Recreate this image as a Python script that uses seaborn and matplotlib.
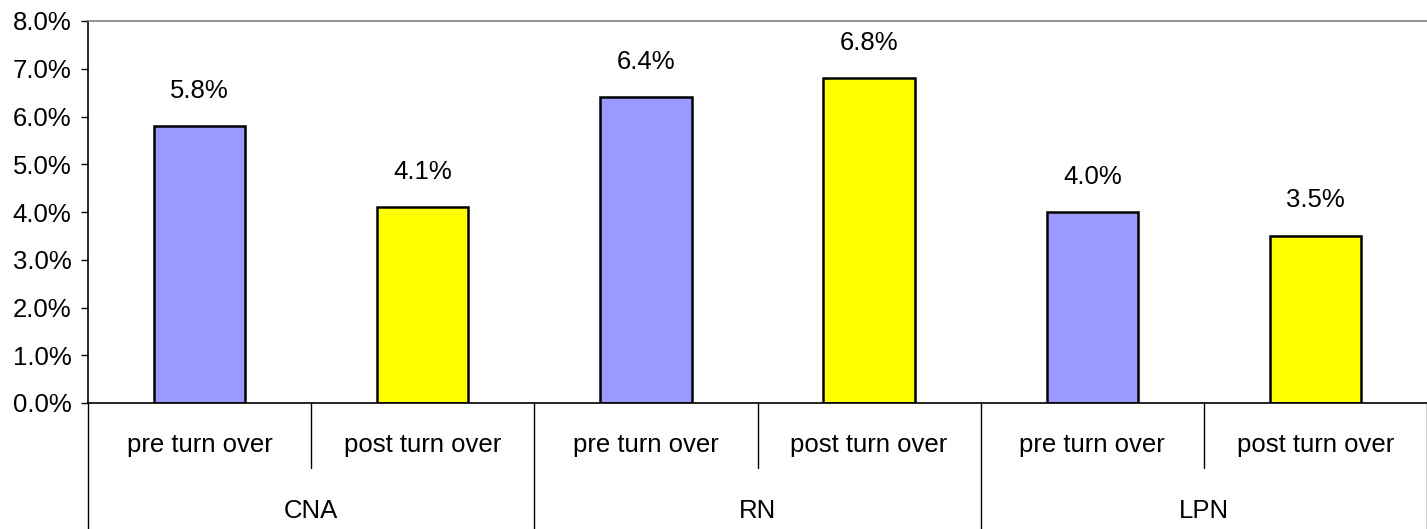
import matplotlib
matplotlib.use("Agg")
import matplotlib.pyplot as plt
import matplotlib.transforms as mtransforms
from matplotlib.ticker import FuncFormatter, MultipleLocator
import pandas as pd
import seaborn as sns

# Turnover rates by staff type, before and after turnover
groups = ["CNA", "CNA", "RN", "RN", "LPN", "LPN"]
phases = ["pre turn over", "post turn over"] * 3
rates = [5.8, 4.1, 6.4, 6.8, 4.0, 3.5]
group_names = ["CNA", "RN", "LPN"]
phase_colors = {"pre turn over": "#9999FF", "post turn over": "#FFFF00"}

df = pd.DataFrame({"group": groups, "phase": phases, "rate": rates})
df["bar"] = df["group"] + " " + df["phase"]

sns.set_theme(style="white")
plt.rcParams["font.family"] = ["Liberation Sans", "DejaVu Sans"]
FS = 18.5

fig = plt.figure(figsize=(14.27, 5.29), dpi=100)
ax = fig.add_axes([88 / 1427, 1 - 403 / 529, 1 - 88 / 1427, (403 - 21) / 529])

sns.barplot(data=df, x="bar", y="rate", hue="phase", palette=phase_colors,
            dodge=False, width=0.41, edgecolor="black", linewidth=1.8,
            saturation=1, legend=False, ax=ax)

ax.set_xlim(-0.5, len(df) - 0.5)
ax.set_ylim(0, 8)
ax.yaxis.set_major_locator(MultipleLocator(1))
ax.yaxis.set_major_formatter(FuncFormatter(lambda v, _: f"{v:.1f}%"))
ax.tick_params(axis="y", which="major", left=True, length=5, width=1,
               color="black", labelsize=FS, pad=7, labelcolor="black")
ax.tick_params(axis="x", bottom=False, labelbottom=False)
ax.set_xlabel("")
ax.set_ylabel("")

ax.spines["right"].set_visible(False)
ax.spines["top"].set_color("#808080")
ax.spines["top"].set_linewidth(1.2)
for side in ["left", "bottom"]:
    ax.spines[side].set_color("black")
    ax.spines[side].set_linewidth(1.2)

# Value labels above the bars
for i, r in enumerate(df["rate"]):
    ax.annotate(f"{r:.1f}%", (i, r), xytext=(0, 25.5), textcoords="offset points",
                ha="center", va="center", fontsize=FS, color="black")

# Two-level category axis below the plot
trans = mtransforms.blended_transform_factory(ax.transData, ax.transAxes)
ax_h_px = 403 - 21

def below(pixels):
    return -pixels / ax_h_px

for i, ph in enumerate(df["phase"]):
    ax.text(i, below(42), ph, transform=trans, ha="center", va="center",
            fontsize=FS, color="black", clip_on=False)

for g, name in enumerate(group_names):
    ax.text(2 * g + 0.5, below(108), name, transform=trans, ha="center",
            va="center", fontsize=FS, color="black", clip_on=False)

# Separators between sub-categories and between groups
for k in range(len(df) + 1):
    x = k - 0.5
    y_end = below(130) if k % 2 == 0 else below(65)
    ax.plot([x, x], [0, y_end], transform=trans, color="black", lw=1.0,
            clip_on=False)

fig.savefig("out.png", dpi=100, facecolor="white")
